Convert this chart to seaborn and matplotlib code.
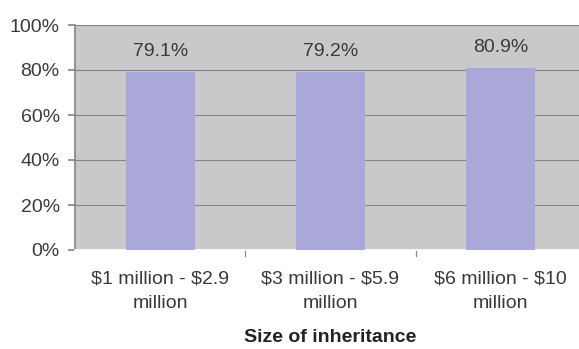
import matplotlib
matplotlib.use("Agg")
import matplotlib.pyplot as plt
import seaborn as sns
import pandas as pd

categories = ["$1 million - $2.9\nmillion", "$3 million - $5.9\nmillion", "$6 million - $10\nmillion"]
values = [79.1, 79.2, 80.9]
value_labels = ["79.1%", "79.2%", "80.9%"]
yticks = [0, 20, 40, 60, 80, 100]
ytick_labels = ["0%", "20%", "40%", "60%", "80%", "100%"]

sns.set_theme(style="white")
plt.rcParams['font.family'] = ['Liberation Sans', 'DejaVu Sans']
plt.rcParams['text.parse_math'] = False

df = pd.DataFrame({"cat": categories, "val": values})

fig = plt.figure(figsize=(5.79, 3.49), dpi=100)
ax = fig.add_axes([75/579, 99/349, 511/579, 225/349])
ax.set_facecolor("#c9c9cb")

sns.barplot(data=df, x="cat", y="val", ax=ax, color="#aaa8d8", width=0.405,
            saturation=1, edgecolor="#aaa8d8", linewidth=0, zorder=3)

ax.set_ylim(0, 100)
ax.set_xlim(-0.5, 2.5)
ax.set_yticks(yticks)
ax.set_yticklabels(ytick_labels, fontsize=14, color="#3a3a3a")
ax.yaxis.grid(True, color="#858585", linewidth=0.8, zorder=1)
ax.set_axisbelow(True)

ax.set_xticks([0, 1, 2])
ax.set_xticklabels(categories, fontsize=14, color="#3a3a3a", linespacing=1.55)
ax.tick_params(axis="x", length=0, pad=15)
ax.tick_params(axis="y", length=5, color="#888888", left=True, pad=6)
for b in [0.5, 1.5]:
    ax.plot([b, b], [0, -2.5], color="#888888", lw=0.9, clip_on=False)

for i, (v, lab) in enumerate(zip(values, value_labels)):
    ax.text(i, v + 7.0, lab, ha="center", va="baseline", fontsize=14, color="#3a3a3a")

for s in ["top", "right"]:
    ax.spines[s].set_visible(False)
ax.spines["left"].set_color("#888888")
ax.spines["bottom"].set_color("#ffffff")

ax.set_xlabel("Size of inheritance", fontsize=14, fontweight="bold", color="#222222", labelpad=12)
ax.set_ylabel("")

fig.savefig("out.png", dpi=100)
